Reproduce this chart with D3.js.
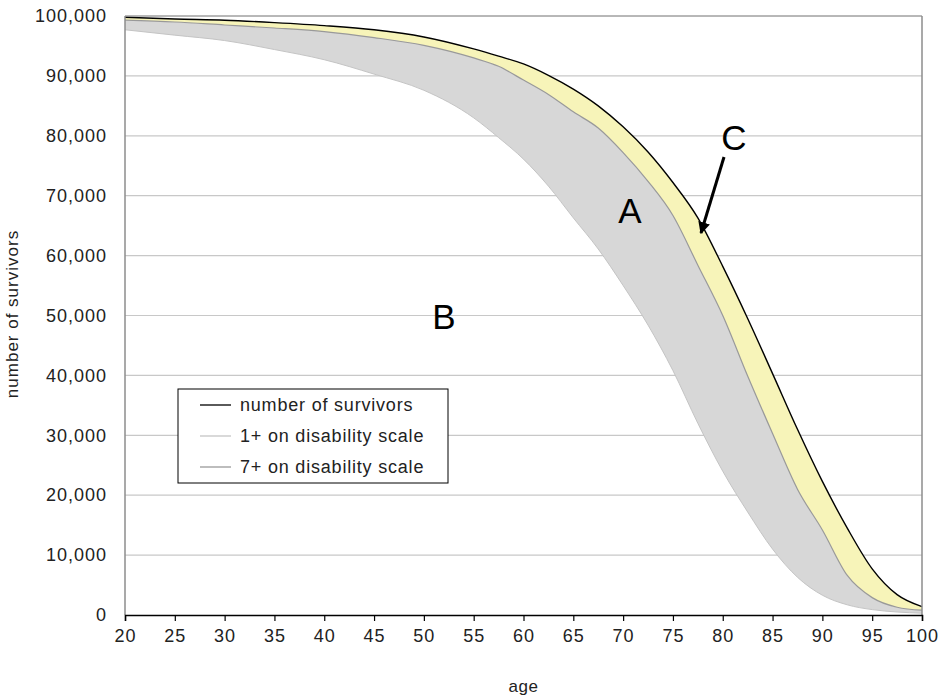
<!DOCTYPE html>
<html>
<head>
<meta charset="utf-8">
<script src="https://cdn.jsdelivr.net/npm/d3@7"></script>
<style>
  body { margin: 0; background: #fff; }
  text { font-family: "Liberation Sans", Arial, sans-serif; }
</style>
</head>
<body>
<div class="container"></div>
<script>
// data
const ages = [20, 25, 30, 35, 40, 45, 50, 55, 57.5, 60, 62.5, 65, 67.5, 70, 72.5, 75, 77.5, 80, 82.5, 85, 87.5, 90, 92.5, 95, 97.5, 100];
const survivors = [99800, 99500, 99300, 98900, 98400, 97700, 96500, 94500, 93300, 92000, 90100, 87800, 85000, 81500, 77300, 72200, 66300, 58200, 49500, 40300, 31000, 22300, 14500, 7700, 3400, 1400];
const disab1 = [99300, 99000, 98500, 98000, 97400, 96400, 95100, 93000, 91600, 89300, 86900, 84000, 81300, 77200, 72400, 66700, 58400, 50000, 39900, 30300, 21000, 14200, 6600, 2900, 1300, 800];
const disab7 = [97700, 96800, 95900, 94400, 92700, 90300, 87600, 83000, 79700, 76100, 71600, 66300, 61100, 55000, 48400, 40800, 32000, 24000, 17200, 11000, 6300, 3300, 1700, 900, 500, 300];
const xTicks = [20, 25, 30, 35, 40, 45, 50, 55, 60, 65, 70, 75, 80, 85, 90, 95, 100];
const yTicks = [0, 10000, 20000, 30000, 40000, 50000, 60000, 70000, 80000, 90000, 100000];
const legendLabels = ["number of survivors", "1+ on disability scale", "7+ on disability scale"];

const rows = ages.map((a, i) => ({ age: a, s: survivors[i], d1: disab1[i], d7: disab7[i] }));

// Define the dimensions
const w = 941;
const h = 697;
const pLeft = 125, pRight = 922, pTop = 16, pBottom = 615;
const fs = 18;

const xScale = d3.scaleLinear().domain([20, 100]).range([pLeft, pRight]);
const yScale = d3.scaleLinear().domain([0, 100000]).range([pBottom, pTop]);

const svg = d3.select(".container")
       .append("svg")
       .attr("width", w)
       .attr("height", h);

const defs = svg.append("defs");
defs.append("marker")
    .attr("id", "arrow")
    .attr("viewBox", "0 0 10 10")
    .attr("refX", 9).attr("refY", 5)
    .attr("markerWidth", 4).attr("markerHeight", 4)
    .attr("orient", "auto")
    .append("path")
    .attr("d", "M0,0L10,5L0,10z")
    .attr("fill", "#000");

// gridlines
svg.append("g")
    .selectAll("line")
    .data(yTicks.filter(d => d > 0))
    .enter()
    .append("line")
    .attr("x1", pLeft).attr("x2", pRight)
    .attr("y1", d => yScale(d)).attr("y2", d => yScale(d))
    .attr("stroke", "#c8c8c8")
    .attr("stroke-width", 1.2);

const curve = d3.curveMonotoneX;

// yellow band C
svg.append("path")
    .datum(rows)
    .attr("d", d3.area().curve(curve).x(d => xScale(d.age)).y0(d => yScale(d.d1)).y1(d => yScale(d.s)))
    .attr("fill", "#f7f4b9");

// gray band A
svg.append("path")
    .datum(rows)
    .attr("d", d3.area().curve(curve).x(d => xScale(d.age)).y0(d => yScale(d.d7)).y1(d => yScale(d.d1)))
    .attr("fill", "#d7d7d7");

const lineFor = key => d3.line().curve(curve).x(d => xScale(d.age)).y(d => yScale(d[key]));

svg.append("path").datum(rows).attr("d", lineFor("d7"))
    .attr("fill", "none").attr("stroke", "#c4c4c4").attr("stroke-width", 1);
svg.append("path").datum(rows).attr("d", lineFor("d1"))
    .attr("fill", "none").attr("stroke", "#999").attr("stroke-width", 1.2);
svg.append("path").datum(rows).attr("d", lineFor("s"))
    .attr("fill", "none").attr("stroke", "#000").attr("stroke-width", 1.4);

// plot frame: left, right and top sides gray
svg.append("line").attr("x1", pLeft).attr("x2", pLeft).attr("y1", pTop).attr("y2", pBottom)
    .attr("stroke", "#8c8c8c").attr("stroke-width", 1.5);
svg.append("line").attr("x1", pRight).attr("x2", pRight).attr("y1", pTop).attr("y2", pBottom)
    .attr("stroke", "#8c8c8c").attr("stroke-width", 1.5);
svg.append("line").attr("x1", pLeft).attr("x2", pRight).attr("y1", pTop).attr("y2", pTop)
    .attr("stroke", "#8c8c8c").attr("stroke-width", 1);

// x axis
const xAxis = d3.axisBottom(xScale).tickValues(xTicks).tickSize(6).tickPadding(8).tickFormat(d3.format("d"));
const gx = svg.append("g")
       .attr("transform", `translate(0,${pBottom})`)
       .call(xAxis);
gx.select(".domain").attr("stroke", "#000").attr("stroke-width", 1.5);
gx.selectAll(".tick line").attr("stroke", "#000").attr("stroke-width", 1.2);
gx.selectAll("text").attr("font-size", fs).attr("fill", "#222")
    .attr("font-family", "Liberation Sans, Arial, sans-serif").attr("letter-spacing", 1);

// y axis labels
const yAxis = d3.axisLeft(yScale).tickValues(yTicks).tickSize(0).tickPadding(18).tickFormat(d3.format(","));
const gy = svg.append("g")
       .attr("transform", `translate(${pLeft},0)`)
       .call(yAxis);
gy.select(".domain").remove();
gy.selectAll("text").attr("font-size", fs).attr("fill", "#222")
    .attr("font-family", "Liberation Sans, Arial, sans-serif").attr("letter-spacing", 1);

// axis titles
svg.append("text")
    .attr("x", (pLeft + pRight) / 2)
    .attr("y", 692)
    .attr("text-anchor", "middle")
    .attr("font-size", 17)
    .attr("fill", "#222")
    .attr("letter-spacing", 0.5)
    .text("age");

svg.append("text")
    .attr("transform", "rotate(-90)")
    .attr("x", -314)
    .attr("y", 18)
    .attr("text-anchor", "middle")
    .attr("font-size", 17)
    .attr("fill", "#222")
    .attr("letter-spacing", 1)
    .text("number of survivors");

// region labels
const big = [["A", 630, 223], ["B", 444, 329], ["C", 734, 150]];
svg.selectAll(".big")
    .data(big)
    .enter()
    .append("text")
    .attr("x", d => d[1])
    .attr("y", d => d[2])
    .attr("text-anchor", "middle")
    .attr("font-size", 35)
    .attr("fill", "#000")
    .text(d => d[0]);

svg.append("line")
    .attr("x1", 724).attr("y1", 157)
    .attr("x2", 701).attr("y2", 233)
    .attr("stroke", "#000").attr("stroke-width", 3)
    .attr("marker-end", "url(#arrow)");

// legend
const lg = svg.append("g").attr("transform", "translate(178,389)");
lg.append("rect").attr("width", 270).attr("height", 94)
    .attr("fill", "#fff").attr("stroke", "#000").attr("stroke-width", 1);
const legendColors = ["#000", "#c4c4c4", "#999"];
legendLabels.forEach((lab, i) => {
  const yy = 16 + i * 31;
  lg.append("line").attr("x1", 22).attr("x2", 53).attr("y1", yy).attr("y2", yy)
      .attr("stroke", legendColors[i]).attr("stroke-width", 1.3);
  lg.append("text").attr("x", 62).attr("y", yy + 6)
      .attr("font-size", fs).attr("fill", "#222").attr("letter-spacing", 0.8)
      .text(lab);
});
</script>
</body>
</html>
